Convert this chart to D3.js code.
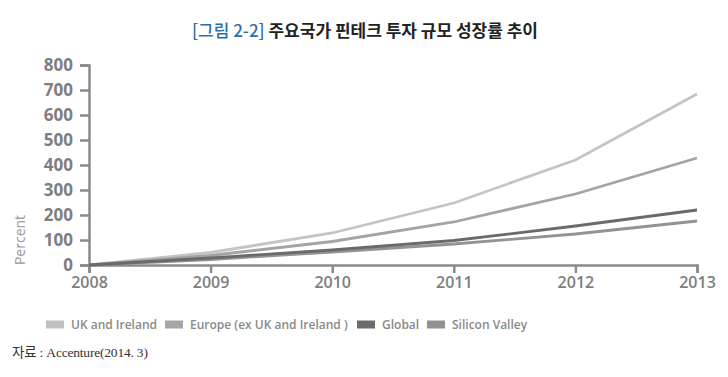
<!DOCTYPE html>
<html>
<head>
<meta charset="utf-8">
<script src="https://cdn.jsdelivr.net/npm/d3@7"></script>
<style>
  body { margin: 0; background: #fff; }
  svg text { font-family: "Noto Sans CJK KR", "Noto Sans", sans-serif; }
</style>
</head>
<body>
<div id="chart"></div>
<script>
var years = [2008, 2009, 2010, 2011, 2012, 2013];
var ukIreland = [0, 50, 128, 248, 420, 684];
var europe = [0, 38, 94, 172, 284, 428];
var global = [0, 28, 60, 98, 156, 220];
var siliconValley = [0, 22, 52, 84, 124, 176];
var yTicks = [0, 100, 200, 300, 400, 500, 600, 700, 800];
var seriesNames = ["UK and Ireland", "Europe (ex UK and Ireland )", "Global", "Silicon Valley"];

var series = [
  { name: seriesNames[0], values: ukIreland, color: "#c4c4c4" },
  { name: seriesNames[1], values: europe, color: "#a4a4a4" },
  { name: seriesNames[3], values: siliconValley, color: "#939393" },
  { name: seriesNames[2], values: global, color: "#6a6a6a" }
];
var legendColors = ["#c0c0c0", "#a6a6a6", "#6c6c6c", "#919191"];

var width = 728, height = 377;
var margin = { top: 65, left: 89, right: 31, bottom: 112 };

var svg = d3.select("#chart").append("svg")
  .attr("width", width)
  .attr("height", height);

// title
var title = svg.append("text")
  .attr("x", 365)
  .attr("y", 37)
  .attr("text-anchor", "middle")
  .style("font-size", "17px")
  .style("font-weight", "bold");
title.append("tspan").attr("fill", "#2a6eb0").style("font-weight", "500").text("[그림 2-2] ");
title.append("tspan").attr("fill", "#222").text("주요국가 핀테크 투자 규모 성장률 추이");

var x = d3.scaleLinear().domain([2008, 2013]).range([margin.left, width - margin.right]);
var y = d3.scaleLinear().domain([0, 800]).range([height - margin.bottom, margin.top]);

var axisColor = "#8a8a8a";

// y axis
var yAxis = svg.append("g")
  .attr("transform", "translate(" + margin.left + ",0)")
  .call(d3.axisLeft(y).tickValues(yTicks).tickSize(9).tickPadding(7));
yAxis.select(".domain").attr("stroke", axisColor).attr("stroke-width", 2.5);
yAxis.selectAll(".tick line").attr("stroke", axisColor).attr("stroke-width", 2.5);
yAxis.selectAll(".tick text")
  .attr("fill", "#7e7e7e")
  .style("font-family", "'Open Sans', sans-serif")
  .style("font-size", "17px")
  .style("font-weight", "bold");

// x axis
var xAxis = svg.append("g")
  .attr("transform", "translate(0," + y(0) + ")")
  .call(d3.axisBottom(x).tickValues(years).tickFormat(d3.format("d")).tickSize(8).tickPadding(4));
xAxis.select(".domain").attr("stroke", axisColor).attr("stroke-width", 2.5);
xAxis.selectAll(".tick line").attr("stroke", axisColor).attr("stroke-width", 2.5);
xAxis.selectAll(".tick text")
  .attr("fill", "#7e7e7e")
  .style("font-family", "'Open Sans', sans-serif")
  .style("font-size", "16px")
  .style("font-weight", "600");

// y label
svg.append("text")
  .attr("transform", "translate(25,240) rotate(-90)")
  .attr("text-anchor", "middle")
  .attr("fill", "#9a9a9a")
  .style("font-family", "'Open Sans', sans-serif")
  .style("font-size", "14px")
  .text("Percent");

// lines
var line = d3.line()
  .x(function(d, i) { return x(years[i]); })
  .y(function(d) { return y(d); });

svg.selectAll(".series")
  .data(series)
  .enter()
  .append("path")
  .attr("class", "series")
  .attr("d", function(d) { return line(d.values); })
  .attr("fill", "none")
  .attr("stroke", function(d) { return d.color; })
  .attr("stroke-width", 2.8);

// legend
var legendX = [46, 165, 357, 427];
var legend = svg.selectAll(".legend")
  .data(seriesNames)
  .enter()
  .append("g")
  .attr("class", "legend")
  .attr("transform", function(d, i) { return "translate(" + legendX[i] + ",319)"; });
legend.append("rect")
  .attr("y", 1.5)
  .attr("width", 18)
  .attr("height", 8)
  .attr("fill", function(d, i) { return legendColors[i]; });
legend.append("text")
  .attr("x", 25)
  .attr("y", 10)
  .attr("fill", "#8a8a8a")
  .style("font-family", "'Open Sans', sans-serif")
  .style("font-size", "12px")
  .style("font-weight", "600")
  .text(function(d) { return d; });

// source
svg.append("text")
  .attr("x", 12)
  .attr("y", 357)
  .attr("fill", "#333")
  .style("font-family", "'Liberation Serif', 'Noto Sans CJK KR', serif")
  .style("font-size", "13.5px")
  .style("letter-spacing", "-0.2px")
  .text("자료 : Accenture(2014. 3)");
</script>
</body>
</html>
